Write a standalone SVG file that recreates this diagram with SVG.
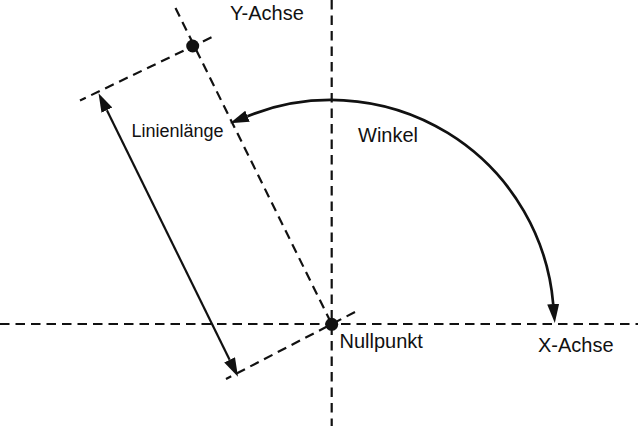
<svg xmlns="http://www.w3.org/2000/svg" width="638" height="426" viewBox="0 0 638 426">
  <style>
    .dash { fill: none; stroke: #111; stroke-width: 2.2; stroke-dasharray: 9.5 6; }
    .arrow { fill: none; stroke: #111; }
    .dot { fill: #111; }
    text { font-family: "Liberation Sans", Arial, sans-serif; fill: #111; }
    .lbl { font-size: 20px; }
    .small { font-size: 18px; }
  </style>
  <defs>
    <marker id="head" markerUnits="userSpaceOnUse" markerWidth="20" markerHeight="14" refX="0" refY="6" orient="auto-start-reverse">
      <path d="M0,0 L19,6 L0,12 z" fill="#111"/>
    </marker>
  </defs>
  <rect width="638" height="426" fill="#fff"/>

  <g id="connectors">
    <line id="x-axis" class="dash" x1="0" y1="324" x2="638" y2="324"/>
    <line id="y-axis" class="dash" x1="331.7" y1="0" x2="331.7" y2="426"/>
    <line id="line-axis" class="dash" x1="175.5" y1="8" x2="331.7" y2="324"/>
    <line id="perp-top" class="dash" x1="211.5" y1="37.3" x2="80" y2="100.5"/>
    <line id="perp-bottom" class="dash" x1="355" y1="312" x2="226" y2="379"/>
    <path id="winkel-arc" class="arrow" stroke-width="2.7" d="M247.5,116.2 A223,223 0 0 1 553.2,304" marker-start="url(#head)" marker-end="url(#head)"/>
    <line id="laenge-arrow" class="arrow" stroke-width="2.2" x1="106.9" y1="110.2" x2="229.6" y2="359.8" marker-start="url(#head)" marker-end="url(#head)"/>
  </g>

  <g id="endpunkt">
    <circle class="dot" cx="192.7" cy="46" r="6.5"/>
  </g>
  <g id="nullpunkt">
    <circle class="dot" cx="331.7" cy="324.3" r="6.5"/>
    <text class="lbl" x="339.5" y="348.3">Nullpunkt</text>
  </g>
  <g id="y-achse-label">
    <text class="lbl" x="230" y="19.5">Y-Achse</text>
  </g>
  <g id="x-achse-label">
    <text class="lbl" x="538" y="352.3">X-Achse</text>
  </g>
  <g id="winkel-label">
    <text class="lbl" x="358" y="141.7">Winkel</text>
  </g>
  <g id="linienlaenge-label">
    <text class="small" x="131.5" y="137.3">Linienlänge</text>
  </g>
</svg>
